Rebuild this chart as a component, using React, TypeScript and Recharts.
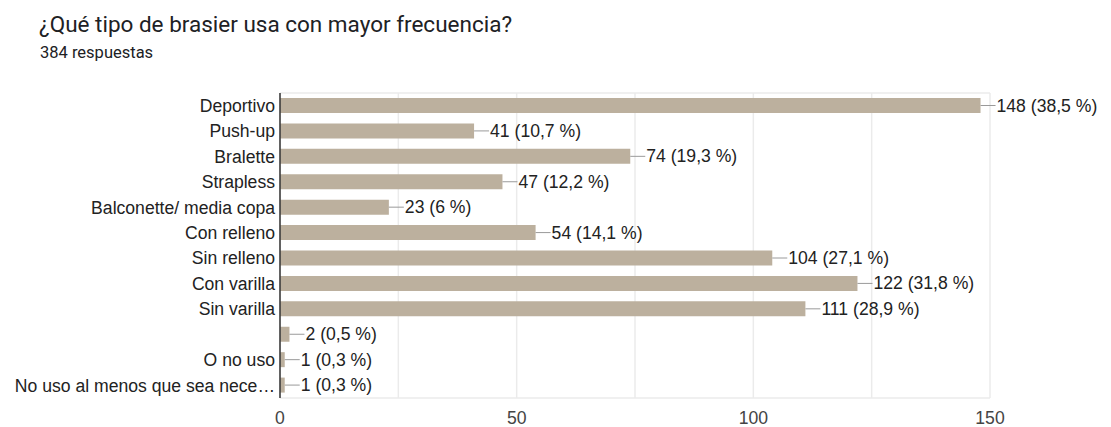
import { BarChart, Bar, XAxis, YAxis, CartesianGrid, LabelList } from 'recharts'

const CATEGORIES = [
  'Deportivo',
  'Push-up',
  'Bralette',
  'Strapless',
  'Balconette/ media copa',
  'Con relleno',
  'Sin relleno',
  'Con varilla',
  'Sin varilla',
  '',
  'O no uso',
  'No uso al menos que sea nece…',
]
const COUNTS = [148, 41, 74, 47, 23, 54, 104, 122, 111, 2, 1, 1]
const PERCENTS = [38.5, 10.7, 19.3, 12.2, 6, 14.1, 27.1, 31.8, 28.9, 0.5, 0.3, 0.3]
const X_TICKS = [0, 25, 50, 75, 100, 125, 150]

const BAR_COLOR = '#BCB09E'
const CHART_FONT = '"Liberation Sans", Arial, sans-serif'

const rows = CATEGORIES.map((name, i) => ({
  name,
  count: COUNTS[i],
  pct: PERCENTS[i],
}))

function ValueLabel(props: any) {
  const { x, y, width, height, index } = props
  const row = rows[index]
  const x0 = Number(x) + Number(width)
  const cy = Number(y) + Number(height) / 2
  const pct = String(row.pct).replace('.', ',')
  return (
    <g>
      <line x1={x0} y1={cy} x2={x0 + 15} y2={cy} stroke="#9a9a9a" strokeWidth={1} />
      <text
        x={x0 + 16}
        y={cy}
        dominantBaseline="central"
        fontFamily={CHART_FONT}
        fontSize={17.6}
        fill="#222"
      >
        {`${row.count} (${pct} %)`}
      </text>
    </g>
  )
}

export default function App() {
  return (
    <div
      style={{
        position: 'absolute',
        left: 0,
        top: 0,
        width: 1111,
        height: 427,
        background: '#fff',
        overflow: 'hidden',
      }}
    >
      <div
        style={{
          position: 'absolute',
          left: 39,
          top: 13,
          fontFamily: 'Roboto, sans-serif',
          fontSize: 22.5,
          lineHeight: '22.5px',
          color: '#202124',
          whiteSpace: 'nowrap',
        }}
      >
        ¿Qué tipo de brasier usa con mayor frecuencia?
      </div>
      <div
        style={{
          position: 'absolute',
          left: 40,
          top: 44.5,
          fontFamily: 'Roboto, sans-serif',
          fontSize: 16.5,
          lineHeight: '16.5px',
          color: '#202124',
          whiteSpace: 'nowrap',
        }}
      >
        384 respuestas
      </div>
      <BarChart
        width={1111}
        height={427}
        data={rows}
        layout="vertical"
        margin={{ top: 93, right: 121, bottom: 0, left: 0 }}
        barSize={15}
        style={{ position: 'absolute', left: 0, top: 0 }}
      >
        <CartesianGrid
          stroke="#ebebeb"
          strokeWidth={1.5}
          horizontalCoordinatesGenerator={({ offset }: any) => [offset.top, offset.top + offset.height]}
        />
        <XAxis
          type="number"
          domain={[0, 150]}
          ticks={X_TICKS}
          tickFormatter={(v: number) => (v % 50 === 0 ? String(v) : '')}
          axisLine={false}
          tickLine={false}
          tickSize={0}
          tickMargin={14}
          height={29}
          tick={{ fontFamily: CHART_FONT, fontSize: 17.6, fill: '#444' }}
        />
        <YAxis
          type="category"
          dataKey="name"
          width={280}
          axisLine={{ stroke: '#333', strokeWidth: 1.5 }}
          tickLine={false}
          tickSize={0}
          tickMargin={5}
          interval={0}
          tick={{ fontFamily: CHART_FONT, fontSize: 17.6, fill: '#222' }}
        />
        <Bar dataKey="count" fill={BAR_COLOR} isAnimationActive={false}>
          <LabelList dataKey="count" content={<ValueLabel />} />
        </Bar>
      </BarChart>
    </div>
  )
}
